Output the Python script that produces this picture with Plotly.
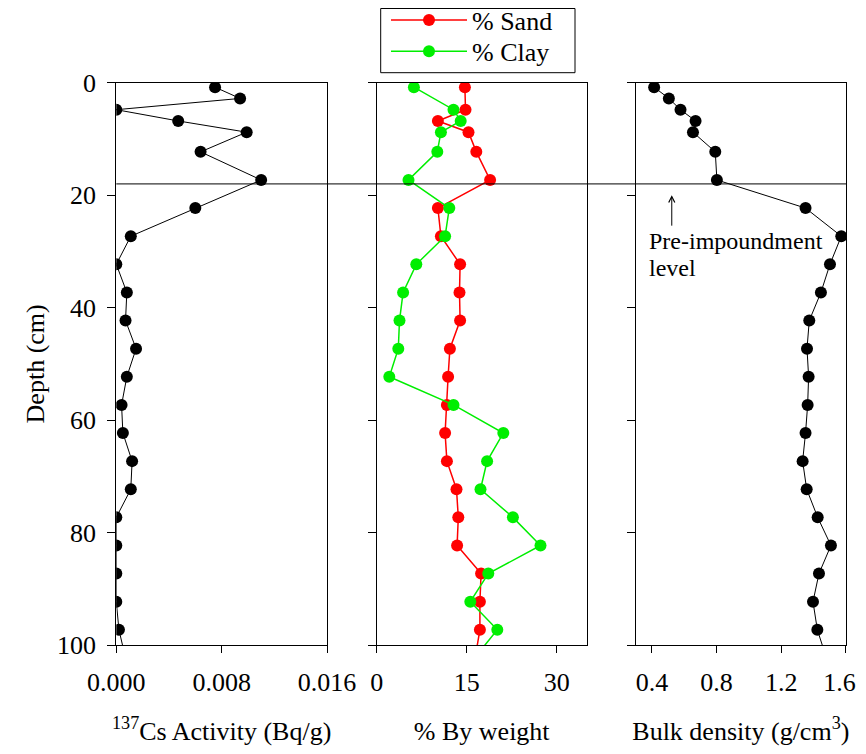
import plotly.graph_objects as go

# ---- data ----
depth_a = [0.8, 2.8, 4.8, 6.8, 8.8, 12.3, 17.3, 22.3, 27.3, 32.3, 37.3, 42.3,
           47.3, 52.3, 57.3, 62.3, 67.3, 72.3, 77.3, 82.3, 87.3, 92.3, 97.3, 102.3]
cs137 = [0.0075, 0.0094, 0.0000, 0.0047, 0.0099, 0.0064, 0.0110, 0.0060, 0.0011,
         0.0000, 0.0008, 0.0007, 0.0015, 0.0008, 0.0004, 0.0005, 0.0012, 0.0011,
         0.0000, 0.0000, 0.0000, 0.0000, 0.0002, 0.0007]
bulk_density = [0.414, 0.505, 0.577, 0.670, 0.654, 0.792, 0.802, 1.350, 1.571,
                1.501, 1.445, 1.373, 1.359, 1.369, 1.363, 1.350, 1.332, 1.357,
                1.425, 1.507, 1.433, 1.396, 1.423, 1.479]

depth_b = [0.8, 4.8, 6.8, 8.8, 12.3, 17.3, 22.3, 27.3, 32.3, 37.3, 42.3, 47.3,
           52.3, 57.3, 62.3, 67.3, 72.3, 77.3, 82.3, 87.3, 92.3, 97.3, 102.3]
sand = [14.7, 14.8, 10.2, 15.3, 16.6, 18.9, 10.2, 10.7, 13.9, 13.8, 13.9, 12.2,
        11.9, 11.7, 11.4, 11.7, 13.3, 13.6, 13.4, 17.4, 17.2, 17.2, 16.4]
clay = [6.2, 12.8, 14.0, 10.7, 10.1, 5.3, 12.1, 11.4, 6.6, 4.4, 3.8, 3.6,
        2.1, 12.8, 21.1, 18.4, 17.3, 22.7, 27.3, 18.6, 15.6, 20.1, 16.3]

impoundment_depth = 18.0
depth_ticks = [0, 20, 40, 60, 80, 100]
cs_ticks = [0.0, 0.008, 0.016]
cs_ticklabels = ["0.000", "0.008", "0.016"]
pct_ticks = [0, 15, 30]
bd_ticks = [0.4, 0.8, 1.2, 1.6]
# trailing figure space keeps the last label inside the visible page edge
bd_ticklabels = ["0.4", "0.8", "1.2", "1.6\u2007"]

# page body has an 8px margin; the figure starts at (8, 8)
OFF = 8
W, H = 857, 738
FONT = "Liberation Serif"
FS = 26

def px_x(p):
    return (p - OFF) / W

def px_y(p):
    return 1 - (p - OFF) / H

fig = go.Figure()
fig.add_trace(go.Scatter(x=cs137, y=depth_a, mode="lines+markers", xaxis="x", yaxis="y",
                         line=dict(color="black", width=1),
                         marker=dict(color="black", size=12), showlegend=False))
fig.add_trace(go.Scatter(x=sand, y=depth_b, mode="lines+markers", xaxis="x2", yaxis="y2",
                         name="% Sand", line=dict(color="#ff0000", width=1.5),
                         marker=dict(color="#ff0000", size=12), legend="legend"))
fig.add_trace(go.Scatter(x=clay, y=depth_b, mode="lines+markers", xaxis="x2", yaxis="y2",
                         name="% Clay", line=dict(color="#00ee00", width=1.5),
                         marker=dict(color="#00ee00", size=12), legend="legend2"))
fig.add_trace(go.Scatter(x=bulk_density, y=depth_a, mode="lines+markers", xaxis="x3", yaxis="y3",
                         line=dict(color="black", width=1),
                         marker=dict(color="black", size=12), showlegend=False))

ydom = [px_y(645), px_y(82.7)]
common_x = dict(showline=True, linecolor="black", linewidth=1, mirror=True,
                ticks="outside", ticklen=7, tickcolor="black", showgrid=False,
                zeroline=False, automargin=False, ticklabeloverflow="allow",
                tickfont=dict(family=FONT, size=FS, color="black"),
                ticklabelstandoff=7,
                title=dict(font=dict(family=FONT, size=FS, color="black"), standoff=28))
common_y = dict(showline=True, linecolor="black", linewidth=1, mirror=True,
                ticks="outside", ticklen=8, tickcolor="black", showgrid=False,
                zeroline=False, automargin=False, range=[100, 0], tickvals=depth_ticks,
                domain=ydom, tickfont=dict(family=FONT, size=FS, color="black"))

legend_common = dict(xanchor="left", yanchor="top", borderwidth=0,
                     bgcolor="rgba(0,0,0,0)", itemwidth=76,
                     font=dict(family=FONT, size=FS, color="black"))

fig.update_layout(
    width=W, height=H,
    margin=dict(l=0, r=0, t=0, b=0, autoexpand=False),
    paper_bgcolor="white", plot_bgcolor="white",
    font=dict(family=FONT, size=FS, color="black"),
    xaxis=dict(common_x, domain=[px_x(116.3), px_x(327)], range=[0, 0.0160001],
               tickvals=cs_ticks, ticktext=cs_ticklabels, anchor="y",
               title_text="<sup>137</sup>Cs Activity (Bq/g)"),
    xaxis2=dict(common_x, domain=[px_x(376.7), px_x(586.7)], range=[0, 35],
                tickvals=pct_ticks, anchor="y2", title_text="% By weight"),
    xaxis3=dict(common_x, domain=[px_x(635.7), px_x(846)], range=[0.3, 1.6001],
                tickvals=bd_ticks, ticktext=bd_ticklabels, anchor="y3",
                title_text="Bulk density (g/cm<sup>3</sup>)"),
    yaxis=dict(common_y, anchor="x", ticklabelstandoff=6,
               title=dict(text="Depth (cm)", font=dict(family=FONT, size=FS, color="black"),
                          standoff=4)),
    yaxis2=dict(common_y, anchor="x2", showticklabels=False),
    yaxis3=dict(common_y, anchor="x3", showticklabels=False),
    legend=dict(legend_common, x=px_x(386), y=px_y(20 - 23.4)),
    legend2=dict(legend_common, x=px_x(386), y=px_y(51.2 - 23.4)),
)

# legend frame
fig.add_shape(type="rect", xref="paper", yref="paper",
              x0=px_x(380.7), x1=px_x(575), y0=px_y(72.7), y1=px_y(8.5),
              line=dict(color="black", width=1), fillcolor="white", layer="below")

# pre-impoundment level line across all panels
fig.add_shape(type="line", xref="paper", yref="y", x0=px_x(116.3), x1=px_x(846),
              y0=impoundment_depth, y1=impoundment_depth,
              line=dict(color="black", width=1))

# arrow and label
fig.add_annotation(x=0.523, y=20, xref="x3", yref="y3", ax=0, ay=32, text="",
                   showarrow=True, arrowhead=5, arrowsize=1.2, arrowwidth=1, arrowcolor="black")
fig.add_annotation(x=px_x(646.7), y=px_y(241), xref="paper", yref="paper",
                   text="Pre-impoundment", showarrow=False, xanchor="left", yanchor="middle",
                   font=dict(family=FONT, size=24, color="black"))
fig.add_annotation(x=px_x(646.7), y=px_y(268), xref="paper", yref="paper",
                   text="level", showarrow=False, xanchor="left", yanchor="middle",
                   font=dict(family=FONT, size=24, color="black"))

fig.write_html("out.html")
